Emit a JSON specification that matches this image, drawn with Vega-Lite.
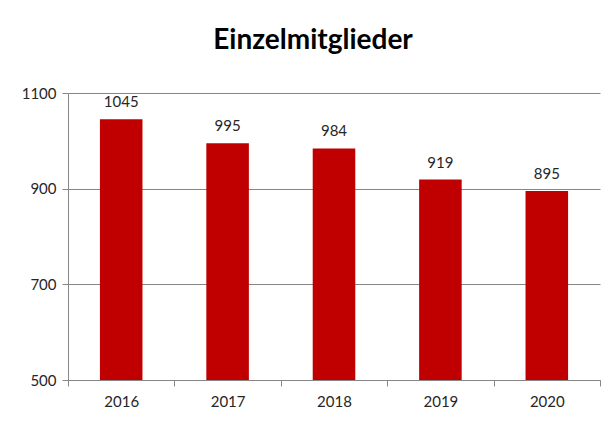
{
  "$schema": "https://vega.github.io/schema/vega-lite/v6.json",
  "width": 532,
  "height": 287,
  "autosize": "none",
  "padding": {"left": 68, "top": 93, "right": 10, "bottom": 41},
  "background": "white",
  "title": {
    "text": "Einzelmitglieder",
    "font": "Lato",
    "fontSize": 28,
    "fontWeight": "bold",
    "color": "#000000",
    "anchor": "middle",
    "frame": "group",
    "dx": -21,
    "baseline": "alphabetic",
    "offset": 9
  },
  "data": {
    "values": [
      {"year": "2016", "value": 1045},
      {"year": "2017", "value": 995},
      {"year": "2018", "value": 984},
      {"year": "2019", "value": 919},
      {"year": "2020", "value": 895}
    ]
  },
  "encoding": {
    "x": {
      "field": "year",
      "type": "ordinal",
      "scale": {"paddingInner": 0, "paddingOuter": 0},
      "axis": {
        "title": null,
        "labelAngle": 0,
        "tickBand": "extent",
        "domainColor": "#868686",
        "tickColor": "#868686",
        "tickSize": 6,
        "labelFont": "Lato",
        "labelFontSize": 15,
        "labelColor": "#262626",
        "labelPadding": 8
      }
    },
    "y": {
      "field": "value",
      "type": "quantitative",
      "scale": {"domain": [500, 1100], "nice": false, "zero": false},
      "axis": {
        "title": null,
        "values": [500, 700, 900, 1100],
        "format": "d",
        "domainColor": "#868686",
        "tickColor": "#868686",
        "gridColor": "#868686",
        "tickSize": 6,
        "labelFont": "Lato",
        "labelFontSize": 15,
        "labelColor": "#262626",
        "labelPadding": 6
      }
    }
  },
  "layer": [
    {
      "mark": {"type": "bar", "color": "#C00000", "width": {"band": 0.4}},
      "encoding": {"y2": {"datum": 500}}
    },
    {
      "mark": {"type": "text", "dy": -17, "baseline": "middle", "font": "Lato", "fontSize": 15, "color": "#262626"},
      "encoding": {"text": {"field": "value", "type": "quantitative"}}
    }
  ],
  "config": {"view": {"stroke": null}}
}
